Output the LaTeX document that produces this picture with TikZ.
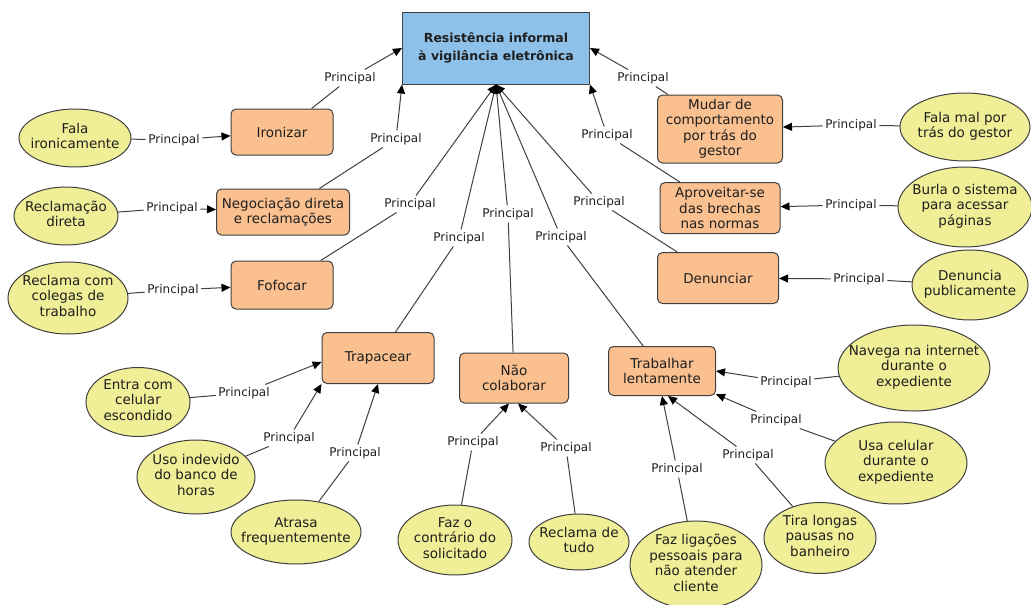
\documentclass[tikz,border=0pt]{standalone}
\usepackage{fontspec}
\setmainfont{DejaVu Sans}
\usetikzlibrary{arrows.meta,shapes.geometric}
\definecolor{rootblue}{HTML}{8EC1E9}
\definecolor{boxorange}{HTML}{FAC08F}
\definecolor{ovalyellow}{HTML}{F0EE96}
\definecolor{edgegray}{HTML}{404040}
% text of an oval, kept out of the shape's size
\newcommand\ovaltext[1]{\makebox[0pt]{\smash{\raisebox{-.25em}{\begin{tabular}{@{}c@{}}#1\end{tabular}}}}}

\begin{document}
\begin{tikzpicture}[x=1pt,y=-1pt,>={Triangle[length=9pt,width=8pt,color=black]},
  every node/.style={font=\fontsize{13.5}{15.5}\selectfont,text=black!88},
  root/.style={draw=edgegray,line width=1pt,fill=rootblue,minimum width=187pt,
    minimum height=72pt,align=center,font=\fontsize{12.5}{18}\selectfont\bfseries},
  tactic/.style={draw=edgegray,line width=1pt,fill=boxorange,rounded corners=5pt,
    align=center,inner sep=2pt},
  act/.style={ellipse,draw=edgegray,line width=1pt,fill=ovalyellow,inner sep=0pt},
  rel/.style={font=\fontsize{12}{14}\selectfont,inner sep=2.5pt},
  link/.style={draw=edgegray,line width=1pt}]
  \useasboundingbox (0,0) rectangle (1031,605);

  % central concept
  \node[root] (root) at (496,48) {Resistência informal\\à vigilância eletrônica};

  % tactics
  \node[tactic,minimum width=102pt,minimum height=46pt] (iron) at (282,132) {Ironizar};
  \node[tactic,minimum width=133pt,minimum height=46pt] (neg) at (283,212) {Negociação direta\\e reclamações};
  \node[tactic,minimum width=102pt,minimum height=48pt] (fof) at (282,285) {Fofocar};
  \node[tactic,minimum width=125pt,minimum height=68pt] (mud) at (720,129) {Mudar de\\comportamento\\por trás do\\gestor};
  \node[tactic,minimum width=120pt,minimum height=51pt] (apr) at (720,208) {Aproveitar-se\\das brechas\\nas normas};
  \node[tactic,minimum width=121pt,minimum height=51pt] (den) at (718,278) {Denunciar};
  \node[tactic,minimum width=112pt,minimum height=51pt] (trap) at (378,358) {Trapacear};
  \node[tactic,minimum width=109pt,minimum height=50pt] (ncol) at (514,378) {Não\\colaborar};
  \node[tactic,minimum width=107pt,minimum height=49pt] (trab) at (662,371) {Trabalhar\\lentamente};

  % behaviours
  \node[act,minimum width=112pt,minimum height=58pt] (falair) at (75,138) {\ovaltext{Fala\\ironicamente}};
  \node[act,minimum width=104pt,minimum height=58pt] (recdir) at (66,216) {\ovaltext{Reclamação\\direta}};
  \node[act,minimum width=120pt,minimum height=72pt] (reccol) at (68,298) {\ovaltext{Reclama com\\colegas de\\trabalho}};
  \node[act,minimum width=130pt,minimum height=68pt] (falamal) at (965,127) {\ovaltext{Fala mal por\\trás do gestor}};
  \node[act,minimum width=134pt,minimum height=80pt] (burla) at (965,207) {\ovaltext{Burla o sistema\\para acessar\\páginas}};
  \node[act,minimum width=116pt,minimum height=70pt] (denpub) at (970,285) {\ovaltext{Denuncia\\publicamente}};
  \node[act,minimum width=152pt,minimum height=86pt] (navega) at (914,368) {\ovaltext{Navega na internet\\durante o\\expediente}};
  \node[act,minimum width=142pt,minimum height=82pt] (usacel) at (896,463) {\ovaltext{Usa celular\\durante o\\expediente}};
  \node[act,minimum width=112pt,minimum height=71pt] (pausas) at (820,538) {\ovaltext{Tira longas\\pausas no\\banheiro}};
  \node[act,minimum width=132pt,minimum height=88pt] (ligac) at (696,565) {\ovaltext{Faz ligações\\pessoais para\\não atender\\cliente}};
  \node[act,minimum width=100pt,minimum height=56pt] (recall) at (579,542) {\ovaltext{Reclama de\\tudo}};
  \node[act,minimum width=114pt,minimum height=70pt] (contr) at (455,540) {\ovaltext{Faz o\\contrário do\\solicitado}};
  \node[act,minimum width=130pt,minimum height=64pt] (atrasa) at (296,532) {\ovaltext{Atrasa\\frequentemente}};
  \node[act,minimum width=118pt,minimum height=74pt] (bhoras) at (196,477) {\ovaltext{Uso indevido\\do banco de\\horas}};
  \node[act,minimum width=104pt,minimum height=69pt] (celesc) at (138,402) {\ovaltext{Entra com\\celular\\escondido}};

  % link labels, tactic to central concept
  \node[rel] (r1) at (350,78) {Principal};
  \node[rel] (r2) at (396,139) {Principal};
  \node[rel] (r3) at (410,204) {Principal};
  \node[rel] (r4) at (459,238) {Principal};
  \node[rel] (r5) at (508,214) {Principal};
  \node[rel] (r6) at (561,237) {Principal};
  \node[rel] (r7) at (599,202) {Principal};
  \node[rel] (r8) at (607,135) {Principal};
  \node[rel] (r9) at (643,78) {Principal};

  % link labels, behaviour to tactic
  \node[rel] (b1) at (174,140) {Principal};
  \node[rel] (b2) at (172,208) {Principal};
  \node[rel] (b3) at (173,290) {Principal};
  \node[rel] (b4) at (851,125) {Principal};
  \node[rel] (b5) at (851,205) {Principal};
  \node[rel] (b6) at (859,279) {Principal};
  \node[rel] (b7) at (786,382) {Principal};
  \node[rel] (b8) at (776,420) {Principal};
  \node[rel] (b9) at (748,455) {Principal};
  \node[rel] (b10) at (677,469) {Principal};
  \node[rel] (b11) at (566,448) {Principal};
  \node[rel] (b12) at (473,442) {Principal};
  \node[rel] (b13) at (355,453) {Principal};
  \node[rel] (b14) at (289,438) {Principal};
  \node[rel] (b15) at (244,393) {Principal};

  % tactic -> central concept
  \draw[link] (iron) -- (r1);  \draw[link,->] (r1) -- (root.west);
  \draw[link] (neg) -- (r2);   \draw[link,->] (r2) -- (root.south west);
  \draw[link] (fof) -- (r3);   \draw[link,->] (r3) -- (root.south);
  \draw[link] (trap) -- (r4);  \draw[link,->] (r4) -- (root.south);
  \draw[link] (ncol) -- (r5);  \draw[link,->] (r5) -- (root.south);
  \draw[link] (trab) -- (r6);  \draw[link,->] (r6) -- (root.south);
  \draw[link] (den) -- (r7);   \draw[link,->] (r7) -- (root.south);
  \draw[link] (apr) -- (r8);   \draw[link,->] (r8) -- (root.south east);
  \draw[link] (mud) -- (r9);   \draw[link,->] (r9) -- (root.east);

  % behaviour -> tactic
  \draw[link] (falair) -- (b1);  \draw[link,->] (b1) -- (iron);
  \draw[link] (recdir) -- (b2);  \draw[link,->] (b2) -- (neg);
  \draw[link] (reccol) -- (b3);  \draw[link,->] (b3) -- (fof);
  \draw[link] (falamal) -- (b4); \draw[link,->] (b4) -- (mud);
  \draw[link] (burla) -- (b5);   \draw[link,->] (b5) -- (apr);
  \draw[link] (denpub) -- (b6);  \draw[link,->] (b6) -- (den);
  \draw[link] (navega) -- (b7);  \draw[link,->] (b7) -- (trab.east);
  \draw[link] (usacel) -- (b8);  \draw[link,->] (b8) -- (trab);
  \draw[link] (pausas) -- (b9);  \draw[link,->] (b9) -- ([xshift=6pt]trab.south);
  \draw[link] (ligac) -- (b10);  \draw[link,->] (b10) -- (trab.south);
  \draw[link] (recall) -- (b11); \draw[link,->] (b11) -- ([xshift=4pt]ncol.south);
  \draw[link] (contr) -- (b12);  \draw[link,->] (b12) -- ([xshift=-5pt]ncol.south);
  \draw[link] (atrasa) -- (b13); \draw[link,->] (b13) -- (trap.south);
  \draw[link] (bhoras) -- (b14); \draw[link,->] (b14) -- (trap.south west);
  \draw[link] (celesc) -- (b15); \draw[link,->] (b15) -- ([yshift=-4pt]trap.west);
\end{tikzpicture}
\end{document}
